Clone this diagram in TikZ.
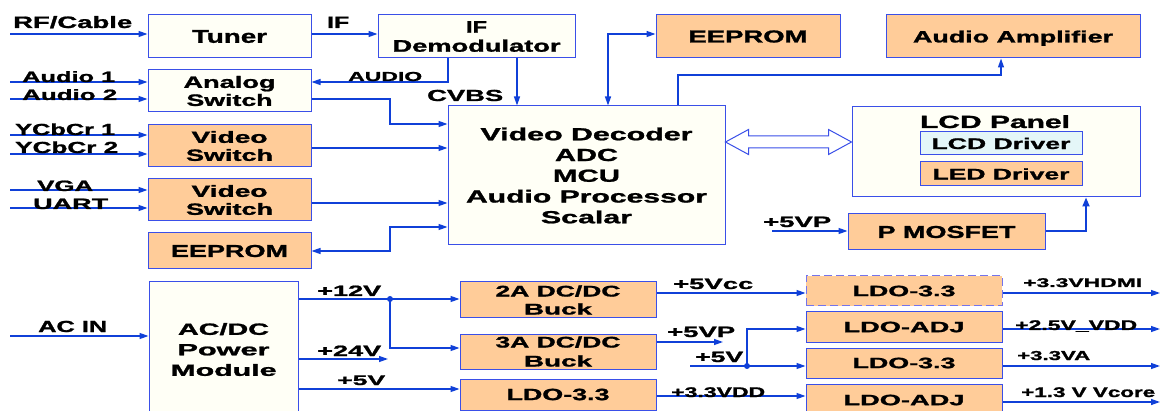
\documentclass[tikz,border=0pt]{standalone}
\usepackage{fontspec}
\setmainfont{Liberation Sans}[BoldFeatures={FakeBold=1.2}]
\usepackage{graphicx}
\usetikzlibrary{arrows.meta,calc}
\definecolor{bord}{HTML}{3A4FE8}
\definecolor{lc}{HTML}{1040D8}
\definecolor{org}{HTML}{FFCC99}
\definecolor{ivy}{HTML}{FFFFF6}
\definecolor{cyn}{HTML}{E4F6F8}
\definecolor{dsh}{HTML}{7474EC}
\newcommand\wt[2]{\resizebox{#1pt}{\height}{#2}}
\newcommand\fs[2]{\fontsize{#1}{#2}\selectfont\bfseries}
\tikzset{
  box/.style={draw=bord, line width=1pt, inner sep=0pt, align=center, text=black},
  obox/.style={box, fill=org},
  wbox/.style={box, fill=ivy},
  conn/.style={draw=lc, line width=1.3pt},
  arr/.style={conn, -{Triangle[length=9pt,width=6pt]}},
  darr/.style={conn, {Triangle[length=9pt,width=6pt]}-{Triangle[length=9pt,width=6pt]}},
  lab/.style={inner sep=0pt, anchor=base west, text=black},
  dot/.style={circle, fill=lc, inner sep=0pt, minimum size=6pt}
}
\begin{document}
\begin{tikzpicture}[x=1pt,y=-1pt]
\useasboundingbox (0,0) rectangle (1161,411);
% ---------- boxes ----------
\node[wbox, minimum width=163pt, minimum height=43pt, font={\fs{18.5}{20}}] (tuner) at (229.5,36.5) {\wt{75}{Tuner}};
\node[wbox, minimum width=197pt, minimum height=43pt, font={\fs{16.8}{19}}] (ifd) at (476.5,36.5) {\wt{21}{IF}\\\wt{168}{Demodulator}};
\node[obox, minimum width=184pt, minimum height=43pt, font={\fs{17.2}{19}}] (ee1) at (748,36.5) {\wt{119}{EEPROM}};
\node[obox, minimum width=254pt, minimum height=43pt, text depth=0pt, font={\fs{16.3}{19}}] (amp) at (1013,36.5) {\wt{200}{Audio Amplifier}};
\node[wbox, minimum width=163pt, minimum height=42pt, font={\fs{16.5}{18}}] (asw) at (229.5,91) {\wt{92}{Analog}\\\wt{86}{Switch}};
\node[wbox, minimum width=277pt, minimum height=139pt, font={\fs{17.5}{20.75}}] (vd) at (586.5,175.5) {\wt{212}{Video Decoder}\\\wt{63}{ADC}\\\wt{67}{MCU}\\\wt{241}{Audio Processor}\\\wt{91}{Scalar}};
\node[obox, minimum width=163pt, minimum height=42pt, font={\fs{16.3}{18}}] (vs1) at (229.5,146) {\wt{76}{Video}\\\wt{87}{Switch}};
\node[obox, minimum width=163pt, minimum height=42pt, font={\fs{16.3}{18}}] (vs2) at (229.5,200) {\wt{76}{Video}\\\wt{87}{Switch}};
\node[obox, minimum width=163pt, minimum height=36pt, font={\fs{17.2}{19}}] (ee2) at (229.5,251) {\wt{117}{EEPROM}};
\node[wbox, minimum width=288pt, minimum height=90pt] (lcd) at (996,152) {};
\node[inner sep=0pt, anchor=base, font={\fs{17.7}{19}}] (lcdt) at (995,128) {\wt{150}{LCD Panel}};
\node[box, fill=cyn, minimum width=162pt, minimum height=23pt, font={\fs{15.4}{17}}] (lcdd) at (1001,143.5) {\wt{139}{LCD Driver}};
\node[obox, minimum width=162pt, minimum height=24pt, font={\fs{15.4}{17}}] (ledd) at (1001,174) {\wt{137}{LED Driver}};
\node[obox, minimum width=197pt, minimum height=36pt, font={\fs{17.2}{19}}] (pmos) at (946.5,232) {\wt{138}{P MOSFET}};
\node[wbox, minimum width=149pt, minimum height=135pt, font={\fs{16.3}{20.5}}] (psu) at (223.5,349.5) {\wt{91}{AC/DC}\\\wt{92}{Power}\\\wt{106}{Module}};
\node[obox, minimum width=196pt, minimum height=36pt, font={\fs{15.4}{18}}] (buck2) at (558,300) {\wt{125}{2A DC/DC}\\\wt{68}{Buck}};
\node[obox, minimum width=196pt, minimum height=35pt, font={\fs{15.4}{19}}] (buck3) at (558,351.5) {\wt{125}{3A DC/DC}\\\wt{68}{Buck}};
\node[obox, minimum width=196pt, minimum height=31pt, font={\fs{16.3}{18}}] (ldoa) at (558,394.5) {\wt{103}{LDO-3.3}};
\node[obox, draw=dsh, dash pattern=on 8pt off 4pt, minimum width=196pt, minimum height=30pt, font={\fs{15}{17}}] (r1) at (904,291) {\wt{103}{LDO-3.3}};
\node[obox, minimum width=196pt, minimum height=30pt, font={\fs{15}{17}}] (r2) at (904,327) {\wt{121}{LDO-ADJ}};
\node[obox, minimum width=196pt, minimum height=30pt, font={\fs{15}{17}}] (r3) at (904,363) {\wt{103}{LDO-3.3}};
\node[obox, minimum width=196pt, minimum height=32pt, font={\fs{15}{17}}] (r4) at (904,400) {\wt{121}{LDO-ADJ}};
% ---------- coordinates ----------
\coordinate (rf) at (10,34);
\coordinate (au1) at (10,82);
\coordinate (au2) at (10,99);
\coordinate (audx) at (448,82);
\coordinate (cvx) at (517,0);
\coordinate (ao1) at (390,99);
\coordinate (ao2) at (390,124);
\coordinate (yc1) at (10,135);
\coordinate (yc2) at (10,154);
\coordinate (vso1) at (390,148);
\coordinate (vga) at (10,190);
\coordinate (uart) at (10,208);
\coordinate (vso2) at (390,203);
\coordinate (ee2a) at (390,227);
\coordinate (ee2b) at (390,251);
\coordinate (ee1a) at (608,34);
\coordinate (ampa) at (678,75);
\coordinate (ampb) at (1001,75);
\coordinate (vp) at (772,231);
\coordinate (pm) at (1086,231);
\coordinate (da) at (0,142);
\coordinate (acin) at (10,336);
\coordinate (v12) at (390,299);
\coordinate (v12b) at (390,348);
\coordinate (v24) at (388,359);
\coordinate (v5) at (0,389);
\coordinate (v5cc) at (0,293);
\coordinate (v5vp) at (723,342);
\coordinate (v5in) at (690,366);
\coordinate (v5d) at (747,366);
\coordinate (v5u) at (747,329);
\coordinate (vdd) at (0,396);
\coordinate (o1) at (1160,293);
\coordinate (o2) at (1160,329);
\coordinate (o3) at (1160,366);
\coordinate (o4) at (1160,402);
% ---------- connectors ----------
\draw[arr] (rf) -- (rf -| tuner.west);
\draw[arr] (tuner.east |- rf) -- (ifd.west |- rf);
\draw[arr] (ifd.south -| audx) -- (audx) -- (asw.east |- audx);
\draw[arr] (ifd.south -| cvx) -- (vd.north -| cvx);
\draw[arr] (au1) -- (au1 -| asw.west);
\draw[arr] (au2) -- (au2 -| asw.west);
\draw[arr] (asw.east |- ao1) -- (ao1) -- (ao2) -- (vd.west |- ao2);
\draw[arr] (yc1) -- (yc1 -| vs1.west);
\draw[arr] (yc2) -- (yc2 -| vs1.west);
\draw[arr] (vs1.east |- vso1) -- (vd.west |- vso1);
\draw[arr] (vga) -- (vga -| vs2.west);
\draw[arr] (uart) -- (uart -| vs2.west);
\draw[arr] (vs2.east |- vso2) -- (vd.west |- vso2);
\draw[darr] (vd.west |- ee2a) -- (ee2a) -- (ee2b) -- (ee2.east |- ee2b);
\draw[darr] (vd.north -| ee1a) -- (ee1a) -- (ee1.west |- ee1a);
\draw[arr] (vd.north -| ampa) -- (ampa) -- (ampb) -- (amp.south -| ampb);
\draw[arr] (vp) -- (vp -| pmos.west);
\draw[conn, line width=1.8pt, -{Triangle[length=9pt,width=7pt]}] (pmos.east |- pm) -- (pm) -- (lcd.south -| pm);
\draw[draw=bord, line width=1pt, fill=white]
  (vd.east |- da) -- ++(23,-12.5) -- ++(0,6.5) -- ($(lcd.west |- da)+(-23,-6)$) -- ++(0,-6.5)
  -- (lcd.west |- da) -- ++(-23,12.5) -- ++(0,-6.5) -- ($(vd.east |- da)+(23,6)$) -- ++(0,6.5) -- cycle;
\draw[arr] (acin) -- (acin -| psu.west);
\draw[arr] (psu.east |- v12) -- (buck2.west |- v12);
\draw[arr] (v12) -- (v12b) -- (buck3.west |- v12b);
\node[dot] (d1) at (v12) {};
\draw[arr] (psu.east |- v24) -- (v24);
\draw[arr] (psu.east |- v5) -- (ldoa.west |- v5);
\draw[arr] (buck2.east |- v5cc) -- (r1.west |- v5cc);
\draw[arr] (buck3.east |- v5vp) -- (v5vp);
\draw[arr] (v5in) -- (r3.west |- v5in);
\draw[arr] (v5d) -- (v5u) -- (r2.west |- v5u);
\node[dot] (d2) at (v5d) {};
\draw[arr] (ldoa.east |- vdd) -- (r4.west |- vdd);
\draw[arr] (r1.east |- o1) -- (o1);
\draw[arr] (r2.east |- o2) -- (o2);
\draw[arr] (r3.east |- o3) -- (o3);
\draw[arr] (r4.east |- o4) -- (o4);
% ---------- labels ----------
\node[lab, font={\fs{16.5}{18}}] (lrf) at (13,28) {\wt{119}{RF/Cable}};
\node[lab, font={\fs{16.5}{18}}] (lif) at (327,28) {\wt{22}{IF}};
\node[lab, font={\fs{15}{17}}] (la1) at (22,82) {\wt{93}{Audio 1}};
\node[lab, font={\fs{15}{17}}] (la2) at (22,100) {\wt{95}{Audio 2}};
\node[lab, font={\fs{13}{15}}] (laud) at (348,81) {\wt{74}{AUDIO}};
\node[lab, font={\fs{16}{18}}] (lcv) at (427,101) {\wt{76}{CVBS}};
\node[lab, font={\fs{16}{18}}] (ly1) at (15,135) {\wt{100}{YCbCr 1}};
\node[lab, font={\fs{16}{18}}] (ly2) at (15,153) {\wt{103}{YCbCr 2}};
\node[lab, font={\fs{15}{17}}] (lvga) at (37,191) {\wt{56}{VGA}};
\node[lab, font={\fs{15}{17}}] (luart) at (33,209) {\wt{75}{UART}};
\node[lab, font={\fs{15}{17}}] (lvp1) at (763,227) {\wt{68}{+5VP}};
\node[lab, font={\fs{16}{18}}] (lac) at (38,332) {\wt{69}{AC IN}};
\node[lab, font={\fs{15}{17}}] (l12) at (317,296) {\wt{64}{+12V}};
\node[lab, font={\fs{15}{17}}] (l24) at (317,356) {\wt{64}{+24V}};
\node[lab, font={\fs{14}{16}}] (l5a) at (337,385) {\wt{48}{+5V}};
\node[lab, font={\fs{15}{17}}] (l5cc) at (673,289) {\wt{80}{+5Vcc}};
\node[lab, font={\fs{15}{17}}] (lvp2) at (667,337) {\wt{68}{+5VP}};
\node[lab, font={\fs{15}{17}}] (l5b) at (695,362) {\wt{48}{+5V}};
\node[lab, font={\fs{14}{16}}] (lvdd) at (671,397) {\wt{94}{+3.3VDD}};
\node[lab, font={\fs{12.6}{14}}] (lhd) at (1023,287) {\wt{119}{+3.3VHDMI}};
\node[lab, font={\fs{14}{16}}] (l25) at (1015,330) {\wt{122}{+2.5V\_VDD}};
\node[lab, font={\fs{13}{15}}] (lva) at (1017,360) {\wt{73}{+3.3VA}};
\node[lab, font={\fs{14}{16}}] (lcore) at (1021,397) {\wt{134}{+1.3 V Vcore}};
\end{tikzpicture}
\end{document}
